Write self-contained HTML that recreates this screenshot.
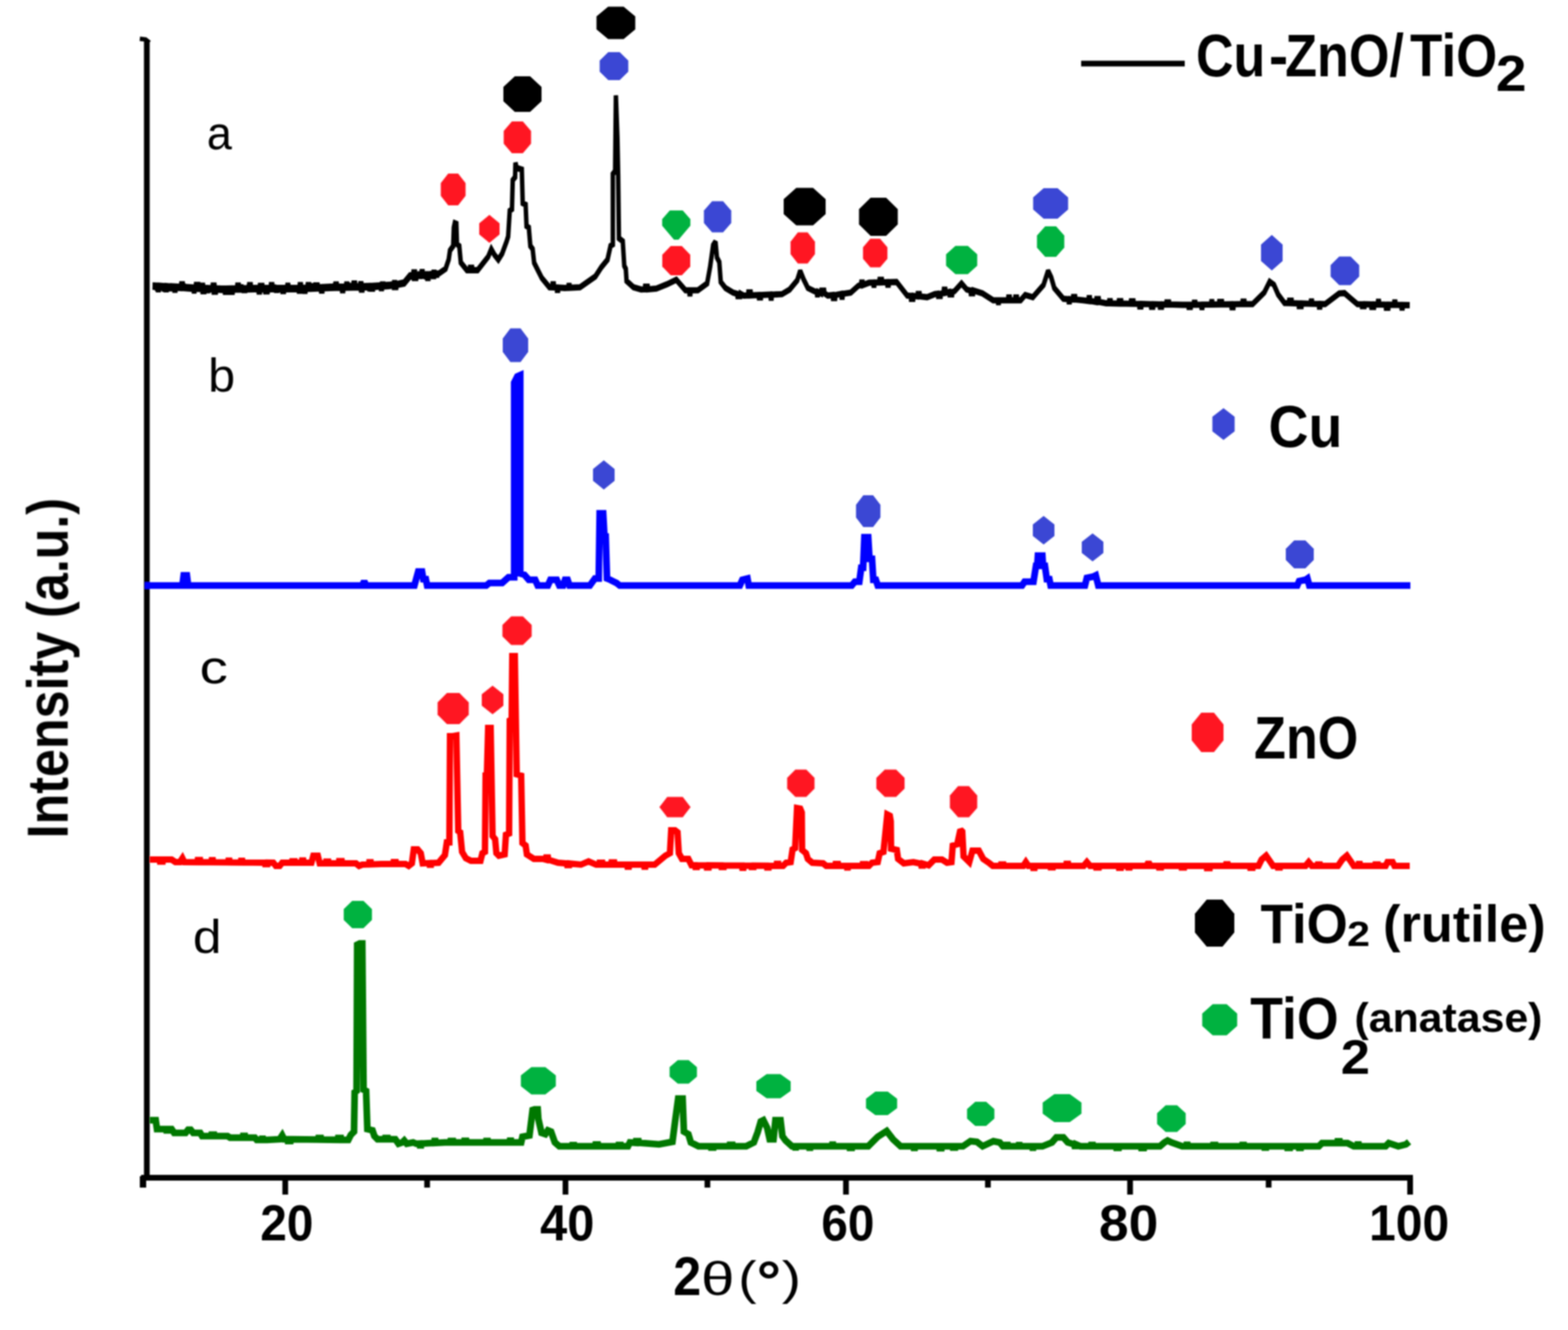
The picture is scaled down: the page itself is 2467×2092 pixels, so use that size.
<!DOCTYPE html>
<html><head><meta charset="utf-8"><title>XRD patterns</title>
<style>
html,body{margin:0;padding:0;background:#fff;}
body{width:2467px;height:2092px;overflow:hidden;}
svg{display:block;}
</style></head><body>
<svg width="2467" height="2092" viewBox="0 0 2467 2092" font-family="'Liberation Sans', Arial, sans-serif">
<rect width="2467" height="2092" fill="#fff"/>
<defs><filter id="soft" filterUnits="userSpaceOnUse" x="0" y="0" width="2467" height="2092"><feGaussianBlur stdDeviation="1"/></filter></defs><g filter="url(#soft)">
<line x1="222" y1="1852.5" x2="2223" y2="1852.5" stroke="#000" stroke-width="9"/>
<line x1="231" y1="64" x2="231" y2="1857" stroke="#000" stroke-width="9"/>
<polyline points="220,61 229,62 235,67" fill="none" stroke="#000" stroke-width="7"/>
<line x1="225" y1="1850" x2="225" y2="1868" stroke="#000" stroke-width="10"/>
<line x1="448.8" y1="1852" x2="448.8" y2="1879" stroke="#000" stroke-width="9"/>
<line x1="889.7" y1="1852" x2="889.7" y2="1879" stroke="#000" stroke-width="9"/>
<line x1="1331" y1="1852" x2="1331" y2="1879" stroke="#000" stroke-width="9"/>
<line x1="1778" y1="1852" x2="1778" y2="1879" stroke="#000" stroke-width="9"/>
<line x1="2218.6" y1="1852" x2="2218.6" y2="1879" stroke="#000" stroke-width="9"/>
<line x1="672" y1="1852" x2="672" y2="1868" stroke="#000" stroke-width="9"/>
<line x1="1113" y1="1852" x2="1113" y2="1868" stroke="#000" stroke-width="9"/>
<line x1="1554.3" y1="1852" x2="1554.3" y2="1868" stroke="#000" stroke-width="9"/>
<line x1="1996" y1="1852" x2="1996" y2="1868" stroke="#000" stroke-width="9"/>
<line x1="1701" y1="100" x2="1864" y2="100" stroke="#000" stroke-width="9"/>
<g transform="scale(1,1.4)"><polyline points="240.0,320.71 246.3,320.94 246.8,323.73 250.8,323.73 251.3,320.94 257.0,321.32 257.5,324.37 261.4,324.37 261.9,321.32 266.5,321.66 267.0,324.01 270.1,324.01 270.6,321.66 284.6,322.31 285.1,319.31 287.8,319.31 288.3,322.31 300.0,322.86 307.7,323.09 308.2,320.05 312.2,320.05 312.7,323.09 316.9,323.36 317.4,320.95 319.7,320.95 320.2,323.36 324.0,323.57 324.5,326.18 327.8,326.18 328.3,323.57 334.1,323.87 334.6,320.81 337.6,320.81 338.1,323.87 348.0,324.29 354.3,324.20 354.8,326.92 357.9,326.92 358.4,324.20 372.8,323.94 373.3,320.79 375.8,320.79 376.3,323.94 382.5,323.81 383.0,326.00 386.2,326.00 386.7,323.81 391.4,323.69 391.9,320.34 394.6,320.34 395.1,323.69 400.0,323.57 408.2,323.57 408.7,321.12 413.0,321.12 413.5,323.57 417.6,323.57 418.1,327.11 420.8,327.11 421.3,323.57 425.7,323.57 426.2,320.32 428.5,320.32 429.0,323.57 433.5,323.57 434.0,325.74 436.7,325.74 437.2,323.57 451.5,323.57 452.0,321.08 453.8,321.08 454.3,323.57 463.0,323.57 471.0,323.37 471.5,320.25 473.6,320.25 474.1,323.37 483.5,323.06 484.0,320.32 486.7,320.32 487.2,323.06 495.3,322.76 495.8,320.62 499.9,320.62 500.4,322.76 520.0,322.14 527.0,322.05 527.5,319.61 530.1,319.61 530.6,322.05 544.1,321.83 544.6,319.63 546.6,319.63 547.1,321.83 555.7,321.69 556.2,318.44 558.7,318.44 559.2,321.69 566.2,321.55 566.7,319.30 568.8,319.30 569.3,321.55 576.0,321.43 580.1,321.27 580.6,323.94 583.4,323.94 583.9,321.27 598.7,320.53 599.2,323.86 601.1,323.86 601.6,320.53 612.0,320.00 619.1,319.15 619.6,322.59 623.6,322.59 624.1,319.15 636.0,317.14 645.0,309.29 649.9,309.06 650.4,305.93 653.1,305.93 653.6,309.06 662.8,308.46 663.3,305.71 665.1,305.71 665.6,308.46 669.5,308.14 670.0,310.63 673.6,310.63 674.1,308.14 680.6,307.63 681.1,310.19 683.2,310.19 683.7,307.63 691.0,307.14 701.0,302.14 706.0,291.43 708.0,281.43 713.0,276.43 714.0,255.71 715.5,250.71 718.0,251.43 719.0,274.29 722.6,276.43 725.0,295.00 734.6,303.57 738.9,303.57 739.4,300.74 742.9,300.74 743.4,303.57 751.5,303.57 768.0,288.57 773.0,280.00 778.0,286.43 784.0,291.79 790.0,285.00 797.0,271.43 799.5,265.71 802.0,236.79 805.5,235.00 806.7,202.50 810.4,199.07 811.0,182.86 812.8,188.57 821.0,190.43 822.4,228.21 827.0,230.00 828.4,254.00 832.0,255.71 834.4,276.29 838.0,279.71 840.4,295.21 847.6,305.50 852.4,312.36 864.4,322.71 868.8,322.87 869.3,319.42 871.4,319.42 871.9,322.87 875.6,323.11 876.1,325.84 878.3,325.84 878.8,323.11 888.5,323.57 893.9,323.38 894.4,321.10 896.3,321.10 896.8,323.38 912.5,322.71 936.6,310.71 946.0,300.36 955.8,291.79 960.6,276.29 964.2,274.57 964.2,195.64 967.8,192.14 969.0,107.14 971.4,154.29 972.6,197.14 973.8,267.71 979.8,271.14 982.2,298.57 984.6,302.14 985.8,315.71 996.7,322.71 1008.7,325.29 1014.4,325.05 1014.9,322.06 1019.1,322.06 1019.6,325.05 1032.7,324.29 1049.6,319.29 1064.0,314.29 1078.4,326.14 1084.2,326.16 1084.7,329.68 1086.3,329.68 1086.8,326.16 1098.0,326.21 1112.5,318.50 1117.3,299.57 1122.0,275.57 1125.7,271.43 1128.0,289.29 1131.7,294.43 1134.0,316.79 1141.4,323.57 1153.4,328.79 1159.8,330.07 1160.3,332.67 1164.8,332.67 1165.3,330.07 1170.2,332.14 1176.9,331.96 1177.4,328.53 1181.1,328.53 1181.6,331.96 1193.4,331.51 1193.9,334.15 1197.4,334.15 1197.9,331.51 1212.0,331.00 1212.5,334.49 1214.1,334.49 1214.6,331.00 1230.3,330.50 1242.3,325.36 1254.3,315.00 1259.0,304.29 1264.0,313.36 1271.0,323.57 1280.8,327.07 1284.9,328.03 1285.4,330.71 1286.9,330.71 1287.4,328.03 1291.8,329.64 1292.3,326.59 1296.7,326.59 1297.2,329.64 1302.4,332.14 1310.0,331.43 1310.5,334.91 1314.1,334.91 1314.6,331.43 1323.5,330.18 1324.0,333.52 1325.7,333.52 1326.2,330.18 1338.5,328.79 1350.5,321.07 1354.6,320.22 1355.1,317.39 1357.3,317.39 1357.8,320.22 1367.3,317.64 1373.8,317.51 1374.3,320.02 1375.8,320.02 1376.3,317.51 1383.3,317.33 1383.8,314.44 1387.6,314.44 1388.1,317.33 1395.6,317.08 1396.1,319.94 1398.3,319.94 1398.8,317.08 1410.6,316.79 1427.4,332.14 1432.7,332.44 1433.2,335.73 1436.9,335.73 1437.4,332.44 1443.3,333.05 1443.8,330.36 1447.0,330.36 1447.5,333.05 1458.7,333.93 1470.7,330.50 1475.4,329.99 1475.9,332.63 1480.1,332.63 1480.6,329.99 1484.5,328.98 1485.0,325.48 1487.4,325.48 1487.9,328.98 1493.4,328.02 1493.9,330.83 1498.1,330.83 1498.6,328.02 1502.0,327.07 1512.8,318.50 1521.0,325.36 1526.9,326.38 1527.4,329.49 1531.1,329.49 1531.6,326.38 1545.7,329.64 1562.5,337.36 1569.6,337.36 1570.1,339.61 1571.7,339.61 1572.2,337.36 1585.9,337.36 1586.4,334.25 1588.8,334.25 1589.3,337.36 1596.9,337.36 1597.4,334.30 1600.1,334.30 1600.6,337.36 1605.8,337.36 1613.0,331.43 1625.0,333.93 1641.8,320.21 1649.0,304.29 1653.9,311.64 1658.7,323.57 1673.0,335.71 1680.8,336.13 1681.3,338.61 1683.3,338.61 1683.8,336.13 1687.8,336.49 1688.3,333.71 1691.7,333.71 1692.2,336.49 1704.3,337.36 1712.3,338.10 1712.8,334.98 1714.9,334.98 1715.4,338.10 1724.5,339.24 1725.0,336.07 1728.8,336.07 1729.3,339.24 1740.4,340.71 1744.6,340.78 1745.1,338.24 1747.6,338.24 1748.1,340.78 1759.8,341.00 1760.3,338.30 1764.2,338.30 1764.7,341.00 1778.8,341.28 1779.3,338.55 1783.4,338.55 1783.9,341.28 1792.0,341.48 1792.5,344.27 1795.8,344.27 1796.3,341.48 1810.5,341.76 1811.0,344.68 1814.5,344.68 1815.0,341.76 1824.3,341.96 1824.8,344.77 1828.3,344.77 1828.8,341.96 1834.7,342.12 1835.2,339.67 1839.4,339.67 1839.9,342.12 1860.6,342.50 1869.5,342.42 1870.0,344.94 1873.6,344.94 1874.1,342.42 1877.8,342.35 1878.3,340.15 1880.9,340.15 1881.4,342.35 1889.8,342.24 1890.3,345.08 1891.9,345.08 1892.4,342.24 1905.3,342.11 1905.8,339.35 1907.4,339.35 1907.9,342.11 1917.7,342.00 1918.2,339.18 1922.7,339.18 1923.2,342.00 1937.2,341.83 1937.7,345.32 1940.7,345.32 1941.2,341.83 1950.0,341.71 1954.4,341.71 1954.9,338.94 1958.1,338.94 1958.6,341.71 1970.7,341.71 1989.2,328.57 1997.6,316.43 2004.3,320.00 2011.0,330.93 2021.0,340.50 2027.8,340.63 2028.3,337.74 2032.3,337.74 2032.8,340.63 2042.9,340.92 2043.4,344.02 2047.8,344.02 2048.3,340.92 2061.9,341.28 2062.4,338.70 2064.4,338.70 2064.9,341.28 2074.7,341.52 2075.2,344.48 2077.3,344.48 2077.8,341.52 2085.0,341.71 2107.0,329.71 2115.4,329.29 2123.8,334.50 2135.6,341.71 2142.1,341.80 2142.6,343.99 2147.0,343.99 2147.5,341.80 2157.1,342.01 2157.6,344.93 2162.0,344.93 2162.5,342.01 2167.5,342.16 2168.0,339.03 2169.7,339.03 2170.2,342.16 2180.0,342.33 2180.5,345.79 2184.4,345.79 2184.9,342.33 2193.1,342.51 2193.6,339.69 2195.5,339.69 2196.0,342.51 2204.5,342.67 2205.0,345.56 2206.9,345.56 2207.4,342.67 2218.0,342.86" fill="none" stroke="#000" stroke-width="7" stroke-linejoin="miter" stroke-miterlimit="2" stroke-linecap="butt"/></g>
<g transform="scale(1,1.4)"><polyline points="240.0,322.14 247.7,322.42 248.2,325.15 250.0,325.15 250.5,322.42 259.6,322.84 260.1,324.99 262.7,324.99 263.2,322.84 273.7,323.35 274.2,325.57 276.4,325.57 276.9,323.35 284.6,323.74 285.1,321.90 289.6,321.90 290.1,323.74 300.0,324.29 304.1,324.41 304.6,326.53 306.3,326.53 306.8,324.41 317.9,324.82 318.4,327.28 321.8,327.28 322.3,324.82 335.4,325.34 335.9,327.70 339.9,327.70 340.4,325.34 348.0,325.71 353.1,325.64 353.6,328.01 357.6,328.01 358.1,325.64 362.9,325.51 363.4,327.90 366.3,327.90 366.8,325.51 376.4,325.32 376.9,322.70 380.0,322.70 380.5,325.32 390.5,325.13 391.0,322.75 392.8,322.75 393.3,325.13 400.0,325.00 406.3,325.00 406.8,327.65 409.3,327.65 409.8,325.00 416.6,325.00 417.1,327.33 421.3,327.33 421.8,325.00 429.5,325.00 430.0,322.99 431.8,322.99 432.3,325.00 443.5,325.00 444.0,326.99 447.1,326.99 447.6,325.00 463.0,325.00 469.4,324.84 469.9,326.75 474.3,326.75 474.8,324.84 478.4,324.61 478.9,326.78 480.9,326.78 481.4,324.61 486.7,324.41 487.2,321.58 491.1,321.58 491.6,324.41 504.5,323.96 505.0,326.53 507.5,326.53 508.0,323.96 520.0,323.57 525.5,323.50 526.0,321.74 528.3,321.74 528.8,323.50 537.5,323.35 538.0,326.15 540.2,326.15 540.7,323.35 544.7,323.26 545.2,320.75 548.4,320.75 548.9,323.26 554.4,323.13 554.9,320.94 559.1,320.94 559.6,323.13 567.2,322.97 567.7,325.43 570.5,325.43 571.0,322.97 576.0,322.86 582.5,322.60 583.0,324.39 587.3,324.39 587.8,322.60 600.2,321.90 600.7,319.56 603.5,319.56 604.0,321.90 612.0,321.43 619.4,320.54 619.9,317.88 621.8,317.88 622.3,320.54 636.0,318.57 645.0,310.71 650.3,310.47 650.8,312.46 655.2,312.46 655.7,310.47 659.5,310.04 660.0,308.06 663.2,308.06 663.7,310.04 671.6,309.48 672.1,312.32 674.4,312.32 674.9,309.48 681.4,309.02 681.9,306.41 683.8,306.41 684.3,309.02 691.0,308.57" fill="none" stroke="#000" stroke-width="7" stroke-linejoin="miter" stroke-miterlimit="2" stroke-linecap="butt"/></g>
<polyline points="228.0,921.00 287.0,921.00 289.0,905.00 294.0,905.00 296.0,921.00 570.0,921.00 573.0,914.00 576.0,921.00 652.0,921.00 658.0,899.00 664.0,899.00 666.0,911.00 670.0,911.00 672.0,921.00 765.0,921.00 770.0,917.00 790.0,917.00 800.0,908.00 809.0,908.00 809.0,602.00 814.0,592.00 818.5,590.00 818.5,902.00 825.0,904.00 832.0,912.00 842.0,912.00 846.0,921.00 862.0,921.00 866.0,912.00 876.0,912.00 880.0,921.00 886.0,921.00 889.0,912.00 893.0,912.00 896.0,921.00 928.0,921.00 936.0,910.00 942.0,910.00 943.5,807.50 949.0,807.50 951.0,844.00 953.0,844.00 955.0,910.00 960.0,912.00 970.0,917.00 975.0,921.00 1164.0,921.00 1168.0,912.00 1176.0,910.00 1178.0,921.00 1340.0,921.00 1345.0,915.00 1352.0,915.00 1355.0,893.00 1358.0,893.00 1360.0,845.00 1366.0,845.00 1368.0,879.00 1372.0,879.00 1374.0,912.00 1378.0,912.00 1381.0,921.00 1608.0,921.00 1612.0,915.00 1626.0,915.00 1630.0,890.00 1632.0,890.00 1633.0,874.00 1640.0,874.00 1641.0,890.00 1644.0,890.00 1647.0,911.00 1651.0,911.00 1653.0,921.00 1707.0,921.00 1710.0,909.00 1720.0,907.00 1724.0,905.00 1728.0,921.00 2041.0,921.00 2044.0,914.00 2054.0,912.00 2057.0,910.00 2060.0,921.00 2219.0,921.00" fill="none" stroke="#0000ff" stroke-width="10.5" stroke-linejoin="miter" stroke-miterlimit="2" stroke-linecap="butt"/>
<polyline points="236.0,1352.00 251.2,1352.00 251.7,1355.21 256.0,1355.21 256.5,1352.00 270.0,1352.00 276.0,1356.00 283.0,1356.00 287.0,1350.00 290.0,1356.00 310.6,1356.15 311.1,1352.87 314.9,1352.87 315.4,1356.15 332.6,1356.30 333.1,1352.94 334.9,1352.94 335.4,1356.30 358.8,1356.49 359.3,1353.86 361.1,1353.86 361.6,1356.49 378.7,1356.63 379.2,1353.96 381.3,1353.96 381.8,1356.63 416.6,1356.90 417.1,1359.23 421.0,1359.23 421.5,1356.90 430.0,1357.00 434.0,1362.00 440.0,1362.00 444.0,1357.00 459.1,1357.00 459.6,1354.71 464.0,1354.71 464.5,1357.00 474.7,1357.00 475.2,1353.56 477.2,1353.56 477.7,1357.00 490.0,1357.00 493.0,1346.00 500.0,1346.00 503.0,1358.00 512.6,1358.00 513.1,1355.15 516.7,1355.15 517.2,1358.00 533.0,1358.00 533.5,1354.55 537.7,1354.55 538.2,1358.00 560.0,1358.00 565.0,1362.00 570.0,1360.00 580.5,1359.65 581.0,1356.24 583.3,1356.24 583.8,1359.65 600.0,1359.00 618.7,1359.00 619.2,1356.07 622.8,1356.07 623.3,1359.00 638.0,1359.00 643.0,1362.00 648.0,1358.00 651.0,1336.00 657.0,1336.00 662.0,1342.00 665.0,1358.00 675.4,1357.58 675.9,1360.36 678.3,1360.36 678.8,1357.58 690.0,1357.00 700.0,1345.00 703.0,1325.00 707.0,1325.00 708.0,1158.00 712.0,1158.00 718.0,1157.00 721.0,1307.00 724.0,1309.00 727.0,1340.00 733.0,1350.00 741.0,1354.00 756.0,1354.00 759.0,1342.00 763.0,1340.00 764.0,1220.00 766.0,1220.00 768.0,1145.00 772.0,1145.00 775.0,1315.00 779.0,1320.00 781.0,1342.00 785.0,1346.00 794.0,1344.00 796.0,1313.00 801.0,1311.00 802.0,1133.00 805.0,1131.00 806.0,1032.00 810.0,1032.00 813.0,1218.00 820.0,1220.00 822.0,1326.00 827.0,1330.00 829.0,1344.00 840.0,1351.00 854.0,1351.00 859.0,1352.26 859.5,1348.83 862.1,1348.83 862.6,1352.26 878.0,1357.00 891.9,1358.16 892.4,1360.77 895.6,1360.77 896.1,1358.16 914.0,1360.00 926.0,1355.00 938.0,1360.00 942.8,1360.00 943.3,1357.03 947.7,1357.03 948.2,1360.00 961.6,1360.00 962.1,1356.60 966.4,1356.60 966.9,1360.00 986.8,1360.00 987.3,1363.35 989.5,1363.35 990.0,1360.00 1013.3,1360.00 1013.8,1363.30 1015.4,1363.30 1015.9,1360.00 1030.0,1360.00 1047.0,1346.00 1054.0,1342.00 1056.0,1306.00 1062.0,1306.00 1066.0,1309.00 1068.0,1342.00 1073.0,1351.00 1083.0,1351.00 1088.0,1361.00 1093.6,1361.04 1094.1,1363.86 1096.7,1363.86 1097.2,1361.04 1111.5,1361.16 1112.0,1364.56 1115.1,1364.56 1115.6,1361.16 1134.5,1361.32 1135.0,1363.85 1138.9,1363.85 1139.4,1361.32 1167.4,1361.55 1167.9,1365.05 1169.8,1365.05 1170.3,1361.55 1181.7,1361.65 1182.2,1363.80 1186.0,1363.80 1186.5,1361.65 1206.3,1361.82 1206.8,1364.56 1209.6,1364.56 1210.1,1361.82 1221.6,1361.93 1222.1,1358.71 1224.7,1358.71 1225.2,1361.93 1232.0,1362.00 1237.0,1357.00 1244.0,1356.00 1247.0,1336.00 1251.0,1334.00 1254.0,1271.00 1259.0,1272.00 1261.5,1278.00 1262.0,1337.00 1268.0,1342.00 1271.0,1351.00 1278.0,1357.00 1295.0,1358.00 1300.0,1362.00 1314.2,1362.00 1314.7,1359.02 1318.5,1359.02 1319.0,1362.00 1332.1,1362.00 1332.6,1364.62 1334.2,1364.62 1334.7,1362.00 1356.8,1362.00 1357.3,1359.27 1361.8,1359.27 1362.3,1362.00 1367.0,1362.00 1372.0,1357.00 1381.0,1356.00 1384.0,1342.00 1390.0,1340.00 1396.0,1281.00 1400.0,1283.00 1401.5,1292.00 1402.0,1335.00 1411.0,1337.00 1413.0,1351.00 1422.0,1358.00 1437.0,1356.00 1449.2,1358.53 1449.7,1361.60 1452.1,1361.60 1452.6,1358.53 1461.0,1361.00 1470.0,1352.00 1482.0,1352.00 1490.0,1357.00 1497.0,1356.00 1499.0,1330.00 1506.0,1328.00 1511.0,1305.00 1514.0,1308.00 1514.5,1318.00 1516.0,1347.00 1525.0,1356.00 1530.0,1338.00 1540.0,1338.00 1547.0,1351.00 1557.0,1358.00 1562.0,1362.00 1574.5,1362.00 1575.0,1359.74 1578.9,1359.74 1579.4,1362.00 1610.0,1362.00 1614.0,1356.00 1618.0,1362.00 1625.2,1362.00 1625.7,1365.31 1627.8,1365.31 1628.3,1362.00 1652.3,1362.00 1652.8,1364.19 1656.7,1364.19 1657.2,1362.00 1677.4,1362.00 1677.9,1358.84 1680.5,1358.84 1681.0,1362.00 1705.0,1362.00 1710.0,1356.00 1715.0,1362.00 1724.1,1362.00 1724.6,1364.47 1729.0,1364.47 1729.5,1362.00 1760.0,1362.00 1760.5,1365.01 1763.7,1365.01 1764.2,1362.00 1774.5,1362.00 1775.0,1364.56 1777.4,1364.56 1777.9,1362.00 1804.0,1362.00 1807.0,1356.00 1810.0,1362.00 1823.0,1362.00 1823.5,1364.59 1826.9,1364.59 1827.4,1362.00 1858.5,1362.00 1859.0,1364.59 1863.1,1364.59 1863.6,1362.00 1898.4,1362.00 1898.9,1365.47 1903.3,1365.47 1903.8,1362.00 1928.6,1362.00 1929.1,1359.62 1931.7,1359.62 1932.2,1362.00 1966.6,1362.00 1967.1,1365.07 1970.8,1365.07 1971.3,1362.00 1980.0,1362.00 1985.0,1352.00 1992.0,1346.00 1999.0,1356.00 2003.0,1362.00 2010.1,1362.00 2010.6,1364.52 2013.8,1364.52 2014.3,1362.00 2054.0,1362.00 2059.0,1356.00 2064.0,1362.00 2072.9,1362.00 2073.4,1359.63 2076.6,1359.63 2077.1,1362.00 2105.0,1362.00 2112.0,1352.00 2119.0,1346.00 2126.0,1356.00 2130.0,1362.00 2137.3,1362.00 2137.8,1359.02 2139.4,1359.02 2139.9,1362.00 2163.4,1362.00 2163.9,1359.67 2168.0,1359.67 2168.5,1362.00 2180.0,1362.00 2183.0,1356.00 2191.0,1356.00 2194.0,1362.00 2218.0,1362.00" fill="none" stroke="#ff0000" stroke-width="10" stroke-linejoin="miter" stroke-miterlimit="2" stroke-linecap="butt"/>
<polyline points="236.0,1762.00 245.0,1762.00 247.0,1776.00 261.2,1776.00 261.7,1778.12 263.7,1778.12 264.2,1776.00 270.0,1776.00 274.0,1782.00 292.0,1782.00 296.0,1777.00 300.0,1777.00 304.0,1782.00 315.0,1782.00 318.0,1787.00 332.2,1787.00 332.7,1784.80 337.0,1784.80 337.5,1787.00 358.0,1787.00 362.0,1789.50 382.0,1789.50 382.5,1786.86 385.4,1786.86 385.9,1789.50 401.0,1789.50 404.0,1793.00 411.5,1793.00 412.0,1791.14 413.9,1791.14 414.4,1793.00 420.0,1793.00 440.0,1792.00 444.0,1786.00 447.0,1792.00 452.4,1792.05 452.9,1794.80 457.1,1794.80 457.6,1792.05 500.6,1792.53 501.1,1789.92 504.8,1789.92 505.3,1792.53 531.5,1792.84 532.0,1790.11 536.3,1790.11 536.8,1792.84 548.0,1793.00 552.0,1785.00 557.0,1780.00 558.0,1718.00 561.0,1716.00 562.0,1486.00 566.0,1484.00 570.0,1484.00 572.0,1714.00 576.0,1716.00 578.0,1776.00 586.0,1778.00 589.0,1787.00 594.0,1792.00 605.5,1792.00 606.0,1789.96 610.2,1789.96 610.7,1792.00 622.0,1792.00 627.0,1799.00 633.0,1797.00 636.0,1794.00 640.0,1799.00 650.0,1797.00 655.0,1799.00 660.2,1798.77 660.7,1801.58 662.6,1801.58 663.1,1798.77 683.1,1797.75 683.6,1794.79 685.1,1794.79 685.6,1797.75 700.0,1797.00 708.3,1797.00 708.8,1794.80 713.0,1794.80 713.5,1797.00 730.0,1797.00 730.5,1794.60 733.7,1794.60 734.2,1797.00 764.4,1797.00 764.9,1794.70 767.6,1794.70 768.1,1797.00 801.7,1797.00 802.2,1794.36 804.1,1794.36 804.6,1797.00 820.0,1797.00 822.0,1788.00 833.0,1786.00 838.0,1746.00 841.0,1745.00 846.0,1745.00 847.0,1760.00 852.0,1782.00 858.0,1784.00 862.0,1778.00 867.0,1780.00 873.0,1797.00 880.0,1803.00 899.8,1803.00 900.3,1801.13 903.5,1801.13 904.0,1803.00 936.5,1803.00 937.0,1800.31 940.7,1800.31 941.2,1803.00 972.6,1803.00 973.1,1801.05 976.8,1801.05 977.3,1803.00 988.0,1803.00 991.0,1797.00 1000.2,1797.60 1000.7,1794.92 1004.7,1794.92 1005.2,1797.60 1037.0,1800.00 1058.0,1796.00 1062.0,1765.00 1067.0,1728.00 1074.0,1728.00 1076.0,1780.00 1083.0,1784.00 1087.0,1797.00 1099.0,1803.00 1118.1,1803.00 1118.6,1804.93 1122.8,1804.93 1123.3,1803.00 1147.6,1803.00 1148.1,1800.72 1152.6,1800.72 1153.1,1803.00 1174.0,1803.00 1186.0,1797.00 1192.0,1781.00 1197.0,1764.00 1201.0,1762.00 1207.0,1774.00 1211.0,1792.00 1217.0,1792.00 1220.0,1762.00 1228.0,1762.00 1231.0,1787.00 1236.0,1794.00 1246.0,1803.00 1250.4,1803.00 1250.9,1804.80 1252.7,1804.80 1253.2,1803.00 1272.7,1803.00 1273.2,1805.19 1275.0,1805.19 1275.5,1803.00 1308.8,1803.00 1309.3,1800.58 1310.9,1800.58 1311.4,1803.00 1336.3,1803.00 1336.8,1805.40 1340.5,1805.40 1341.0,1803.00 1366.0,1803.00 1381.0,1788.00 1395.0,1779.00 1405.0,1792.00 1417.0,1803.00 1437.2,1803.00 1437.7,1805.58 1439.5,1805.58 1440.0,1803.00 1477.7,1803.00 1478.2,1805.95 1481.4,1805.95 1481.9,1803.00 1498.6,1803.00 1499.1,1805.01 1503.1,1805.01 1503.6,1803.00 1515.0,1803.00 1527.0,1795.00 1537.0,1796.00 1546.0,1803.00 1563.0,1795.00 1573.0,1797.00 1578.0,1803.00 1583.1,1803.00 1583.6,1800.88 1585.6,1800.88 1586.1,1803.00 1602.2,1803.00 1602.7,1801.19 1604.4,1801.19 1604.9,1803.00 1623.9,1803.00 1624.4,1805.15 1625.9,1805.15 1626.4,1803.00 1640.0,1803.00 1655.0,1797.00 1662.0,1789.00 1673.0,1789.00 1680.0,1797.00 1690.3,1800.08 1690.8,1802.56 1692.7,1802.56 1693.2,1800.08 1700.0,1803.00 1716.2,1803.00 1716.7,1801.12 1719.6,1801.12 1720.1,1803.00 1755.9,1803.00 1756.4,1805.51 1760.3,1805.51 1760.8,1803.00 1795.2,1803.00 1795.7,1805.73 1799.8,1805.73 1800.3,1803.00 1825.0,1803.00 1832.0,1797.00 1837.0,1794.00 1843.0,1797.00 1860.0,1803.00 1866.2,1803.00 1866.7,1800.87 1868.6,1800.87 1869.1,1803.00 1908.1,1803.00 1908.6,1801.01 1912.4,1801.01 1912.9,1803.00 1954.0,1803.00 1954.5,1800.99 1957.3,1800.99 1957.8,1803.00 1988.7,1803.00 1989.2,1804.90 1992.4,1804.90 1992.9,1803.00 2024.9,1803.00 2025.4,1805.44 2029.7,1805.44 2030.2,1803.00 2043.2,1803.00 2043.7,1805.45 2046.8,1805.45 2047.3,1803.00 2075.0,1803.00 2080.0,1798.00 2104.0,1798.00 2104.5,1795.15 2107.7,1795.15 2108.2,1798.00 2120.0,1798.00 2130.0,1803.00 2135.4,1803.00 2135.9,1800.34 2137.7,1800.34 2138.2,1803.00 2180.0,1803.00 2185.0,1798.00 2200.0,1803.00 2212.0,1800.00 2217.0,1796.00" fill="none" stroke="#007800" stroke-width="10.5" stroke-linejoin="miter" stroke-miterlimit="2" stroke-linecap="butt"/>
<polygon points="810.0,120.0 834.0,120.0 852.0,136.8 852.0,159.2 834.0,176.0 810.0,176.0 792.0,159.2 792.0,136.8" fill="#000000"/>
<polygon points="956.8,10.5 981.2,10.5 999.5,25.8 999.5,46.2 981.2,61.5 956.8,61.5 938.5,46.2 938.5,25.8" fill="#000000"/>
<polygon points="1252.8,295.5 1279.2,295.5 1299.0,313.2 1299.0,336.8 1279.2,354.5 1252.8,354.5 1233.0,336.8 1233.0,313.2" fill="#000000"/>
<polygon points="1369.8,311.0 1394.2,311.0 1412.5,329.0 1412.5,353.0 1394.2,371.0 1369.8,371.0 1351.5,353.0 1351.5,329.0" fill="#000000"/>
<polygon points="1898.6,1415.0 1923.4,1415.0 1942.0,1437.2 1942.0,1466.8 1923.4,1489.0 1898.6,1489.0 1880.0,1466.8 1880.0,1437.2" fill="#000000"/>
<polygon points="957.0,82.0 975.0,82.0 988.5,95.2 988.5,112.8 975.0,126.0 957.0,126.0 943.5,112.8 943.5,95.2" fill="#3a46d4"/>
<polygon points="1120.4,316.5 1137.6,316.5 1150.5,331.2 1150.5,350.8 1137.6,365.5 1120.4,365.5 1107.5,350.8 1107.5,331.2" fill="#3a46d4"/>
<polygon points="1642.0,296.0 1664.0,296.0 1680.5,310.4 1680.5,329.6 1664.0,344.0 1642.0,344.0 1625.5,329.6 1625.5,310.4" fill="#3a46d4"/>
<polygon points="2001.0,369.6 2018.0,384.7 2018.0,410.5 2001.0,425.6 1984.0,410.5 1984.0,384.7" fill="#3a46d4"/>
<polygon points="2107.0,403.5 2125.0,403.5 2138.5,417.0 2138.5,435.0 2125.0,448.5 2107.0,448.5 2093.5,435.0 2093.5,417.0" fill="#3a46d4"/>
<polygon points="803.0,516.5 819.0,516.5 831.0,532.4 831.0,553.6 819.0,569.5 803.0,569.5 791.0,553.6 791.0,532.4" fill="#3a46d4"/>
<polygon points="950.0,724.0 967.0,737.8 967.0,756.2 950.0,770.0 933.0,756.2 933.0,737.8" fill="#3a46d4"/>
<polygon points="1358.3,779.0 1373.7,779.0 1385.2,794.0 1385.2,814.0 1373.7,829.0 1358.3,829.0 1346.8,814.0 1346.8,794.0" fill="#3a46d4"/>
<polygon points="1642.0,811.5 1659.0,825.0 1659.0,843.0 1642.0,856.5 1625.0,843.0 1625.0,825.0" fill="#3a46d4"/>
<polygon points="1719.0,839.0 1736.0,852.2 1736.0,869.8 1719.0,883.0 1702.0,869.8 1702.0,852.2" fill="#3a46d4"/>
<polygon points="2036.2,850.0 2053.8,850.0 2067.0,863.2 2067.0,880.8 2053.8,894.0 2036.2,894.0 2023.0,880.8 2023.0,863.2" fill="#3a46d4"/>
<polygon points="1925.0,642.0 1942.5,655.5 1942.5,678.5 1925.0,692.0 1907.5,678.5 1907.5,655.5" fill="#3a46d4"/>
<polygon points="705.2,273.0 720.8,273.0 732.5,288.0 732.5,308.0 720.8,323.0 705.2,323.0 693.5,308.0 693.5,288.0" fill="#ff1622"/>
<polygon points="770.0,338.0 786.0,351.2 786.0,368.8 770.0,382.0 754.0,368.8 754.0,351.2" fill="#ff1622"/>
<polygon points="805.4,191.0 822.6,191.0 835.5,206.0 835.5,226.0 822.6,241.0 805.4,241.0 792.5,226.0 792.5,206.0" fill="#ff1622"/>
<polygon points="1055.2,387.0 1072.8,387.0 1086.0,400.8 1086.0,419.2 1072.8,433.0 1055.2,433.0 1042.0,419.2 1042.0,400.8" fill="#ff1622"/>
<polygon points="1255.3,365.5 1270.7,365.5 1282.2,380.2 1282.2,399.8 1270.7,414.5 1255.3,414.5 1243.8,399.8 1243.8,380.2" fill="#ff1622"/>
<polygon points="1369.3,375.5 1384.7,375.5 1396.2,389.0 1396.2,407.0 1384.7,420.5 1369.3,420.5 1357.8,407.0 1357.8,389.0" fill="#ff1622"/>
<polygon points="703.2,1090.0 722.8,1090.0 737.5,1104.7 737.5,1124.3 722.8,1139.0 703.2,1139.0 688.5,1124.3 688.5,1104.7" fill="#ff1622"/>
<polygon points="775.0,1078.5 792.0,1092.0 792.0,1110.0 775.0,1123.5 758.0,1110.0 758.0,1092.0" fill="#ff1622"/>
<polygon points="804.3,969.5 822.7,969.5 836.5,983.0 836.5,1001.0 822.7,1014.5 804.3,1014.5 790.5,1001.0 790.5,983.0" fill="#ff1622"/>
<polygon points="1049.8,1253.5 1074.2,1253.5 1086.5,1269.5 1074.2,1285.5 1049.8,1285.5 1037.5,1269.5" fill="#ff1622"/>
<polygon points="1251.4,1210.5 1268.6,1210.5 1281.5,1223.4 1281.5,1240.6 1268.6,1253.5 1251.4,1253.5 1238.5,1240.6 1238.5,1223.4" fill="#ff1622"/>
<polygon points="1392.1,1210.5 1409.9,1210.5 1423.2,1223.4 1423.2,1240.6 1409.9,1253.5 1392.1,1253.5 1378.8,1240.6 1378.8,1223.4" fill="#ff1622"/>
<polygon points="1507.4,1236.5 1524.6,1236.5 1537.5,1251.2 1537.5,1270.8 1524.6,1285.5 1507.4,1285.5 1494.5,1270.8 1494.5,1251.2" fill="#ff1622"/>
<polygon points="1890.0,1121.0 1910.0,1121.0 1925.0,1139.6 1925.0,1164.4 1910.0,1183.0 1890.0,1183.0 1875.0,1164.4 1875.0,1139.6" fill="#ff1622"/>
<polygon points="1053.8,331.0 1074.2,331.0 1086.2,344.8 1086.2,354.9 1067.6,377.0 1060.4,377.0 1041.8,354.9 1041.8,344.8" fill="#00b240"/>
<polygon points="1503.2,386.8 1522.8,386.8 1537.5,400.1 1537.5,417.9 1522.8,431.2 1503.2,431.2 1488.5,417.9 1488.5,400.1" fill="#00b240"/>
<polygon points="1644.4,356.0 1661.6,356.0 1674.5,370.4 1674.5,389.6 1661.6,404.0 1644.4,404.0 1631.5,389.6 1631.5,370.4" fill="#00b240"/>
<polygon points="554.1,1417.0 571.9,1417.0 585.2,1429.9 585.2,1447.1 571.9,1460.0 554.1,1460.0 540.8,1447.1 540.8,1429.9" fill="#00b240"/>
<polygon points="836.0,1678.5 858.0,1678.5 874.5,1691.4 874.5,1708.6 858.0,1721.5 836.0,1721.5 819.5,1708.6 819.5,1691.4" fill="#00b240"/>
<polygon points="1066.4,1667.5 1083.6,1667.5 1096.5,1678.6 1096.5,1693.4 1083.6,1704.5 1066.4,1704.5 1053.5,1693.4 1053.5,1678.6" fill="#00b240"/>
<polygon points="1206.2,1689.5 1227.8,1689.5 1244.0,1700.9 1244.0,1716.1 1227.8,1727.5 1206.2,1727.5 1190.0,1716.1 1190.0,1700.9" fill="#00b240"/>
<polygon points="1377.2,1717.1 1396.8,1717.1 1411.5,1728.2 1411.5,1743.0 1396.8,1754.1 1377.2,1754.1 1362.5,1743.0 1362.5,1728.2" fill="#00b240"/>
<polygon points="1534.4,1733.0 1551.6,1733.0 1564.5,1744.4 1564.5,1759.6 1551.6,1771.0 1534.4,1771.0 1521.5,1759.6 1521.5,1744.4" fill="#00b240"/>
<polygon points="1658.8,1721.0 1683.2,1721.0 1701.5,1734.2 1701.5,1751.8 1683.2,1765.0 1658.8,1765.0 1640.5,1751.8 1640.5,1734.2" fill="#00b240"/>
<polygon points="1834.0,1738.5 1852.0,1738.5 1865.5,1751.1 1865.5,1767.9 1852.0,1780.5 1834.0,1780.5 1820.5,1767.9 1820.5,1751.1" fill="#00b240"/>
<polygon points="1908.0,1579.5 1930.0,1579.5 1946.5,1594.2 1946.5,1613.8 1930.0,1628.5 1908.0,1628.5 1891.5,1613.8 1891.5,1594.2" fill="#00b240"/>
<text x="409.4" y="1950.8" font-size="79" font-weight="bold" textLength="83.7" lengthAdjust="spacingAndGlyphs">20</text>
<text x="849.8" y="1950.8" font-size="79" font-weight="bold" textLength="85.3" lengthAdjust="spacingAndGlyphs">40</text>
<text x="1292.2" y="1950.8" font-size="79" font-weight="bold" textLength="83.5" lengthAdjust="spacingAndGlyphs">60</text>
<text x="1729.0" y="1950.8" font-size="79" font-weight="bold" textLength="93.4" lengthAdjust="spacingAndGlyphs">80</text>
<text x="2153.9" y="1950.8" font-size="79" font-weight="bold" textLength="126.2" lengthAdjust="spacingAndGlyphs">100</text>
<text x="325.5" y="235.3" font-size="75" textLength="39.3" lengthAdjust="spacingAndGlyphs">a</text>
<text x="327.6" y="616.0" font-size="75" textLength="42.4" lengthAdjust="spacingAndGlyphs">b</text>
<text x="313.9" y="1074.6" font-size="75" textLength="44.4" lengthAdjust="spacingAndGlyphs">c</text>
<text x="303.5" y="1498.7" font-size="75" textLength="45.0" lengthAdjust="spacingAndGlyphs">d</text>
<text x="1059.3" y="2037.3" font-size="86" font-weight="bold" textLength="43.9" lengthAdjust="spacingAndGlyphs">2</text>
<text x="1103.1" y="2036.5" font-size="75" textLength="52.6" lengthAdjust="spacingAndGlyphs">&#952;</text>
<text x="1137.5" y="2036.2" font-size="75" textLength="53.0" lengthAdjust="spacingAndGlyphs">&#160;(</text>
<text x="1190.4" y="2044.6" font-size="87" font-weight="bold" textLength="38.3" lengthAdjust="spacingAndGlyphs">&#176;</text>
<text x="1229.9" y="2036.2" font-size="75" textLength="30.4" lengthAdjust="spacingAndGlyphs">)</text>
<g transform="translate(106.5,1313.5) rotate(-90)"><text x="-5.3" y="0.0" font-size="90" font-weight="bold" textLength="535.7" lengthAdjust="spacingAndGlyphs">Intensity (a.u.)</text></g>
<text x="1881.8" y="119.8" font-size="93.8" font-weight="bold" textLength="109.0" lengthAdjust="spacingAndGlyphs">Cu</text>
<text x="1996.5" y="119.8" font-size="93.8" font-weight="bold" textLength="30.2" lengthAdjust="spacingAndGlyphs">-</text>
<text x="2022.0" y="119.8" font-size="93.8" font-weight="bold" textLength="209.6" lengthAdjust="spacingAndGlyphs">ZnO/&#160;</text>
<text x="2218.6" y="119.8" font-size="93.8" font-weight="bold" textLength="137.1" lengthAdjust="spacingAndGlyphs">TiO</text>
<text x="2353.5" y="143.1" font-size="80.5" font-weight="bold" textLength="48.3" lengthAdjust="spacingAndGlyphs">2</text>
<text x="1995.8" y="702.8" font-size="93.6" font-weight="bold" textLength="116.2" lengthAdjust="spacingAndGlyphs">Cu</text>
<text x="1973.1" y="1192.7" font-size="95" font-weight="bold" textLength="164.0" lengthAdjust="spacingAndGlyphs">ZnO</text>
<text x="1983.3" y="1482.5" font-size="87.5" font-weight="bold" textLength="137.2" lengthAdjust="spacingAndGlyphs">TiO</text>
<text x="2119.4" y="1487.7" font-size="56" font-weight="bold" textLength="35.9" lengthAdjust="spacingAndGlyphs">2</text>
<text x="2153.2" y="1481.3" font-size="82.4" font-weight="bold" textLength="278.7" lengthAdjust="spacingAndGlyphs">&#160;(rutile)</text>
<text x="1967.1" y="1634.1" font-size="93.5" font-weight="bold" textLength="139.1" lengthAdjust="spacingAndGlyphs">TiO</text>
<text x="2109.4" y="1688.8" font-size="76.6" font-weight="bold" textLength="45.9" lengthAdjust="spacingAndGlyphs">2</text>
<text x="2131.1" y="1623.3" font-size="64" font-weight="bold" textLength="295.7" lengthAdjust="spacingAndGlyphs">(anatase)</text>
</g></svg>
</body></html>
